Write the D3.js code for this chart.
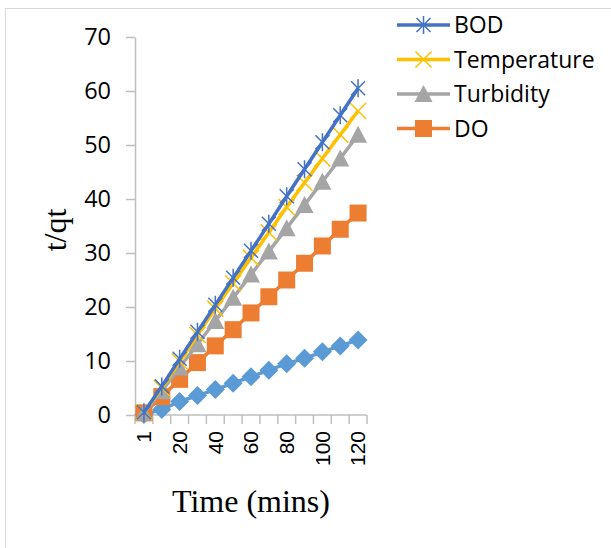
<!DOCTYPE html>
<html>
<head>
<meta charset="utf-8">
<script src="https://cdn.jsdelivr.net/npm/d3@7/dist/d3.min.js"></script>
<style>
  html, body { margin: 0; padding: 0; background: #ffffff; }
  svg { display: block; }
</style>
</head>
<body>
<svg id="chart" width="611" height="548"></svg>
<script>
// Sampling times (minutes) used as x-axis categories
const times = ["1", "10", "20", "30", "40", "50", "60", "70", "80", "90", "100", "110", "120"];
// Only every second category carries a visible tick label
const shownTimeLabels = ["1", "20", "40", "60", "80", "100", "120"];
const yTicks = [0, 10, 20, 30, 40, 50, 60, 70];

// t/qt values per series
const bodValues = [0.5, 5.3, 10.4, 15.4, 20.4, 25.4, 30.4, 35.4, 40.5, 45.5, 50.5, 55.5, 60.5];
const temperatureValues = [0.5, 5.0, 9.9, 14.8, 19.7, 24.4, 29.1, 33.8, 38.5, 43.0, 47.5, 51.9, 56.3];
const turbidityValues = [0.4, 4.4, 8.8, 13.1, 17.4, 21.7, 26.0, 30.3, 34.6, 38.9, 43.2, 47.5, 51.9];
const doValues = [0.4, 3.4, 6.6, 9.7, 12.8, 15.8, 18.9, 21.9, 25.0, 28.1, 31.3, 34.4, 37.4];
const series5Values = [0.1, 1.0, 2.5, 3.6, 4.7, 5.9, 7.1, 8.3, 9.5, 10.5, 11.7, 12.8, 13.9];

const seriesNames = ["BOD", "Temperature", "Turbidity", "DO", "Series5"];
const seriesColors = ["#4472C4", "#FFC000", "#A5A5A5", "#ED7D31", "#5B9BD5"];
const seriesMarkers = ["asterisk", "cross", "triangle", "square", "diamond"];
const seriesValues = [bodValues, temperatureValues, turbidityValues, doValues, series5Values];
const legendNames = ["BOD", "Temperature", "Turbidity", "DO"];

const series = seriesNames.map((name, i) => ({
  name, color: seriesColors[i], marker: seriesMarkers[i], values: seriesValues[i]
}));

const svg = d3.select("#chart");

// Chart frame
svg.append("rect")
  .attr("x", 5.5).attr("y", 8.5)
  .attr("width", 620).attr("height", 560)
  .attr("fill", "#ffffff")
  .attr("stroke", "#D9D9D9").attr("stroke-width", 1);

const plot = { left: 135, right: 367, top: 37, bottom: 415 };

const x = d3.scaleBand().domain(times).range([plot.left, plot.right]).padding(0);
const y = d3.scaleLinear().domain([0, 70]).range([plot.bottom, plot.top]);

const axisColor = "#BFBFBF";

// Y axis
const yAxis = svg.append("g")
  .attr("transform", `translate(${plot.left},0)`)
  .call(d3.axisLeft(y).tickValues(yTicks).tickSize(9).tickSizeOuter(0).tickPadding(15));
yAxis.select(".domain").attr("stroke", axisColor).attr("stroke-width", 1.5);
yAxis.selectAll(".tick line").attr("stroke", axisColor).attr("stroke-width", 1.5);
yAxis.selectAll(".tick text")
  .attr("fill", "#000")
  .style("font-family", "'Open Sans', sans-serif")
  .style("font-size", "23.5px");

// X axis: ticks sit on category boundaries, labels at category centres
const xAxisG = svg.append("g").attr("class", "x-axis");
xAxisG.append("line")
  .attr("x1", plot.left).attr("x2", plot.right)
  .attr("y1", plot.bottom).attr("y2", plot.bottom)
  .attr("stroke", axisColor).attr("stroke-width", 1.5);
const boundaries = times.map(t => x(t)).concat([x(times[times.length - 1]) + x.bandwidth()]);
xAxisG.selectAll("line.tick")
  .data(boundaries)
  .join("line")
  .attr("class", "tick")
  .attr("x1", d => d).attr("x2", d => d)
  .attr("y1", plot.bottom).attr("y2", plot.bottom + 9)
  .attr("stroke", axisColor).attr("stroke-width", 1.5);
xAxisG.selectAll("text")
  .data(shownTimeLabels)
  .join("text")
  .attr("transform", d => `translate(${x(d) + x.bandwidth() / 2},${plot.bottom + 16}) rotate(-90)`)
  .attr("text-anchor", "end")
  .attr("dy", "0.35em")
  .style("font-family", "'Liberation Sans', Arial, sans-serif")
  .style("font-size", "21px")
  .attr("fill", "#000")
  .text(d => d);

// Axis titles
svg.append("text")
  .attr("x", 251).attr("y", 512)
  .attr("text-anchor", "middle")
  .style("font-family", "'Liberation Serif', 'Times New Roman', serif")
  .style("font-size", "32px")
  .attr("fill", "#000")
  .text("Time (mins)");
svg.append("text")
  .attr("transform", "translate(66,230) rotate(-90)")
  .attr("text-anchor", "middle")
  .style("font-family", "'Liberation Serif', 'Times New Roman', serif")
  .style("font-size", "32px")
  .attr("fill", "#000")
  .text("t/qt");

// Marker drawing
function drawMarker(g, type, color) {
  if (type === "asterisk") {
    g.append("path")
      .attr("d", "M0,-9V9M-7,-7L7,7M-7,7L7,-7")
      .attr("stroke", color).attr("stroke-width", 1.5).attr("fill", "none");
  } else if (type === "cross") {
    g.append("path")
      .attr("d", "M-8,-8L8,8M-8,8L8,-8")
      .attr("stroke", color).attr("stroke-width", 1.5).attr("fill", "none");
  } else if (type === "triangle") {
    g.append("path").attr("d", "M0,-9L9,8L-9,8Z").attr("fill", color);
  } else if (type === "square") {
    g.append("path").attr("d", d3.symbol(d3.symbolSquare, 289)()).attr("fill", color);
  } else if (type === "diamond") {
    g.append("path").attr("d", "M0,-9.5L9.5,0L0,9.5L-9.5,0Z").attr("fill", color);
  }
}

const line = d3.line()
  .x((d, i) => x(times[i]) + x.bandwidth() / 2)
  .y(d => y(d));

// Later series drawn first so BOD ends on top
const drawOrder = series.slice().reverse();
drawOrder.forEach(s => {
  const g = svg.append("g").attr("class", "series");
  g.append("path")
    .datum(s.values)
    .attr("d", line)
    .attr("fill", "none")
    .attr("stroke", s.color)
    .attr("stroke-width", 3.5)
    .attr("stroke-linejoin", "round");
  s.values.forEach((v, i) => {
    const m = g.append("g")
      .attr("transform", `translate(${x(times[i]) + x.bandwidth() / 2},${y(v)})`);
    drawMarker(m, s.marker, s.color);
  });
});

// Legend
const legend = svg.append("g").attr("class", "legend");
legendNames.forEach((name, i) => {
  const s = series.find(d => d.name === name);
  const ly = 25 + i * 34.5;
  const item = legend.append("g").attr("transform", `translate(0,${ly})`);
  item.append("line")
    .attr("x1", 397).attr("x2", 450).attr("y1", 0).attr("y2", 0)
    .attr("stroke", s.color).attr("stroke-width", 3.5);
  const m = item.append("g").attr("transform", "translate(423.5,0)");
  drawMarker(m, s.marker, s.color);
  item.append("text")
    .attr("x", 454).attr("y", 0)
    .attr("dy", "0.35em")
    .style("font-family", "'Open Sans', sans-serif")
    .style("font-size", "23px")
    .attr("fill", "#000")
    .text(name);
});
</script>
</body>
</html>
